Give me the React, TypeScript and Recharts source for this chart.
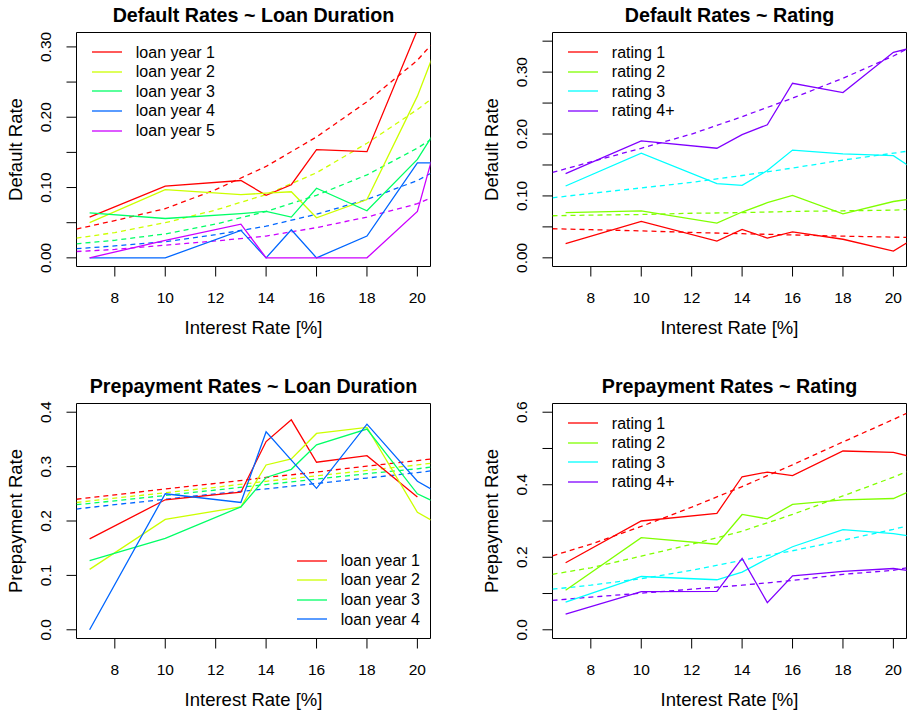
import React from "react";
import { LineChart, Line, XAxis, YAxis, ReferenceArea, Legend } from "recharts";

const FONT = "'Liberation Sans', Arial, Helvetica, sans-serif";

// interest-rate buckets (the last bucket lies past the plotted range and gets clipped)
const rates = [7, 10, 13, 14, 15, 16, 18, 20, 21];
// x positions where the fitted curves are sampled
const fitRates = [6.48, 8, 10, 12, 14, 16, 18, 20, 20.52];
const rateTicks = [8, 10, 12, 14, 16, 18, 20];

const loanYears = ["loan year 1", "loan year 2", "loan year 3", "loan year 4", "loan year 5"];
const ratings = ["rating 1", "rating 2", "rating 3", "rating 4+"];
const loanColors = ["#FF0000", "#CCFF00", "#00FF66", "#0066FF", "#CC00FF"];
const ratingColors = ["#FF0000", "#80FF00", "#00FFFF", "#8000FF"];

// default rate by loan year
const defaultByYear = [
  [0.058, 0.102, 0.11, 0.089, 0.104, 0.154, 0.151, 0.324],
  [0.05, 0.097, 0.09, 0.092, 0.094, 0.057, 0.083, 0.23, 0.323],
  [0.064, 0.056, 0.063, 0.066, 0.058, 0.099, 0.067, 0.14, 0.197],
  [0, 0, 0.039, 0, 0.04, 0, 0.031, 0.135, 0.135],
  [0, 0.025, 0.048, 0, 0, 0, 0, 0.066, 0.196],
];
const defaultByYearFit = [
  [0.041, 0.053, 0.07, 0.097, 0.13, 0.172, 0.222, 0.281, 0.302],
  [0.028, 0.036, 0.05, 0.068, 0.09, 0.121, 0.163, 0.211, 0.225],
  [0.02, 0.025, 0.034, 0.048, 0.066, 0.089, 0.118, 0.156, 0.168],
  [0.013, 0.017, 0.023, 0.033, 0.045, 0.062, 0.083, 0.11, 0.12],
  [0.009, 0.012, 0.018, 0.024, 0.031, 0.043, 0.058, 0.077, 0.085],
];

// default rate by rating
const defaultByRating = [
  [0.023, 0.059, 0.027, 0.046, 0.032, 0.042, 0.03, 0.011, 0.036],
  [0.073, 0.076, 0.056, 0.074, 0.089, 0.101, 0.071, 0.091, 0.097],
  [0.116, 0.169, 0.12, 0.117, 0.141, 0.174, 0.168, 0.165, 0.138],
  [0.136, 0.189, 0.177, 0.199, 0.215, 0.282, 0.267, 0.332, 0.342],
];
const defaultByRatingFit = [
  [0.047, 0.0455, 0.0435, 0.041, 0.039, 0.037, 0.035, 0.0335, 0.033],
  [0.068, 0.069, 0.07, 0.072, 0.073, 0.075, 0.076, 0.077, 0.078],
  [0.097, 0.104, 0.113, 0.122, 0.133, 0.145, 0.158, 0.169, 0.172],
  [0.138, 0.155, 0.177, 0.2, 0.228, 0.258, 0.29, 0.326, 0.337],
];

// prepayment rate by loan year
const prepayByYear = [
  [0.167, 0.239, 0.253, 0.346, 0.386, 0.308, 0.32, 0.244],
  [0.111, 0.203, 0.226, 0.303, 0.314, 0.361, 0.372, 0.216, 0.19],
  [0.127, 0.168, 0.226, 0.28, 0.295, 0.34, 0.369, 0.25, 0.228],
  [0.0, 0.25, 0.234, 0.364, 0.312, 0.26, 0.378, 0.273, 0.247],
];
const prepayByYearFit = [
  [0.24, 0.248, 0.259, 0.269, 0.28, 0.29, 0.301, 0.311, 0.314],
  [0.234, 0.242, 0.252, 0.262, 0.273, 0.283, 0.293, 0.303, 0.306],
  [0.23, 0.237, 0.247, 0.257, 0.267, 0.277, 0.287, 0.296, 0.299],
  [0.222, 0.23, 0.24, 0.25, 0.259, 0.269, 0.279, 0.289, 0.292],
];

// prepayment rate by rating
const prepayByRating = [
  [0.185, 0.3, 0.321, 0.422, 0.435, 0.425, 0.493, 0.489, 0.472],
  [0.109, 0.254, 0.236, 0.318, 0.306, 0.346, 0.358, 0.362, 0.393],
  [0.076, 0.147, 0.138, 0.159, 0.196, 0.229, 0.276, 0.265, 0.255],
  [0.043, 0.105, 0.106, 0.197, 0.075, 0.149, 0.161, 0.169, 0.159],
];
const prepayByRatingFit = [
  [0.204, 0.236, 0.285, 0.338, 0.395, 0.455, 0.518, 0.58, 0.597],
  [0.153, 0.171, 0.203, 0.236, 0.272, 0.318, 0.369, 0.421, 0.436],
  [0.112, 0.123, 0.141, 0.164, 0.192, 0.218, 0.247, 0.277, 0.286],
  [0.081, 0.09, 0.101, 0.112, 0.123, 0.136, 0.153, 0.164, 0.171],
];

const defaultTicksA = [0, 0.05, 0.1, 0.15, 0.2, 0.25, 0.3];
const defaultTicksB = [0, 0.05, 0.1, 0.15, 0.2, 0.25, 0.3, 0.35];
const defaultTickLabels = ["0.00", "", "0.10", "", "0.20", "", "0.30", ""];
const prepayTicksA = [0, 0.1, 0.2, 0.3, 0.4];
const prepayTickLabelsA = ["0.0", "0.1", "0.2", "0.3", "0.4"];
const prepayTicksB = [0, 0.1, 0.2, 0.3, 0.4, 0.5, 0.6];
const prepayTickLabelsB = ["0.0", "", "0.2", "", "0.4", "", "0.6"];

const toPoints = (xs: number[], ys: number[]) => ys.map((y, i) => ({ x: xs[i], y }));

const CELL_W = 454;
const CELL_H = 356;

type Box = { left: number; right: number; top: number; bottom: number };

type PanelProps = {
  x: number;
  y: number;
  title: string;
  yLabel: string;
  names: string[];
  colors: string[];
  values: number[][];
  fits: number[][];
  yDomain: [number, number];
  yTicks: number[];
  yTickLabels: string[];
  box: Box;
  legendDx: number;
  legendDy: number;
};

const LegendBox = ({ names, colors }: { names: string[]; colors: string[] }) => (
  <div style={{ fontFamily: FONT, fontSize: 16, color: "#000" }}>
    {names.map((n, i) => (
      <div key={n} style={{ display: "flex", alignItems: "center", height: 19.6, whiteSpace: "nowrap" }}>
        <svg width={30} height={4} style={{ marginRight: 14.3, overflow: "visible" }}>
          <line x1={0} x2={30} y1={2} y2={2} stroke={colors[i]} strokeWidth={1.3} />
        </svg>
        <span style={{ lineHeight: "19.6px" }}>{n}</span>
      </div>
    ))}
  </div>
);

const Panel = (p: PanelProps) => {
  const { box } = p;
  const xDomain: [number, number] = [6.48, 20.52];
  const midX = (box.left + box.right) / 2;
  const midY = (box.top + box.bottom) / 2;
  const yTickX = box.left - 30.5;

  return (
    <div style={{ position: "absolute", left: p.x, top: p.y, width: CELL_W, height: CELL_H }}>
      <LineChart
        width={CELL_W}
        height={CELL_H}
        margin={{ top: box.top, right: CELL_W - box.right, bottom: 0, left: 0 }}
      >
        <XAxis
          type="number"
          dataKey="x"
          domain={xDomain}
          allowDataOverflow
          ticks={rateTicks}
          interval={0}
          height={CELL_H - box.bottom}
          axisLine={false}
          tickSize={10}
          tickLine={{ stroke: "#000", strokeWidth: 1 }}
          tick={(t: any) => (
            <text
              x={t.x}
              y={box.bottom + 36}
              textAnchor="middle"
              fontFamily={FONT}
              fontSize={15.5}
              fill="#000"
            >
              {t.payload.value}
            </text>
          )}
        />
        <YAxis
          type="number"
          dataKey="y"
          domain={p.yDomain}
          allowDataOverflow
          ticks={p.yTicks}
          interval={0}
          width={box.left}
          axisLine={false}
          tickSize={10}
          tickLine={{ stroke: "#000", strokeWidth: 1 }}
          tick={(t: any) => (
            <text
              x={yTickX}
              y={t.y}
              dy="0.35em"
              transform={`rotate(-90 ${yTickX} ${t.y})`}
              textAnchor="middle"
              fontFamily={FONT}
              fontSize={15.5}
              fill="#000"
            >
              {p.yTickLabels[t.index] ?? ""}
            </text>
          )}
        />
        <ReferenceArea
          x1={xDomain[0]}
          x2={xDomain[1]}
          y1={p.yDomain[0]}
          y2={p.yDomain[1]}
          ifOverflow="visible"
          fill="none"
          stroke="#000"
          strokeWidth={1}
        />
        {p.fits.map((f, i) => (
          <Line
            key={`fit-${i}`}
            data={toPoints(fitRates, f)}
            dataKey="y"
            type="linear"
            stroke={p.colors[i]}
            strokeWidth={1.3}
            strokeDasharray="5 4"
            dot={false}
            legendType="none"
            isAnimationActive={false}
          />
        ))}
        {p.values.map((v, i) => (
          <Line
            key={`obs-${i}`}
            name={p.names[i]}
            data={toPoints(rates, v)}
            dataKey="y"
            type="linear"
            stroke={p.colors[i]}
            strokeWidth={1.3}
            dot={false}
            isAnimationActive={false}
          />
        ))}
        <Legend
          layout="vertical"
          align="center"
          verticalAlign="middle"
          wrapperStyle={{ left: box.left + p.legendDx, top: box.top + p.legendDy, width: "auto" }}
          content={() => <LegendBox names={p.names} colors={p.colors} />}
        />
      </LineChart>
      <svg
        width={CELL_W}
        height={CELL_H}
        style={{ position: "absolute", left: 0, top: 0, pointerEvents: "none" }}
      >
        <text
          x={midX}
          y={box.top - 10.3}
          textAnchor="middle"
          fontFamily={FONT}
          fontWeight="bold"
          fontSize={19.7}
          fill="#000"
        >
          {p.title}
        </text>
        <text
          x={midX}
          y={box.bottom + 67}
          textAnchor="middle"
          fontFamily={FONT}
          fontSize={18.5}
          fill="#000"
        >
          Interest Rate [%]
        </text>
        <text
          x={box.left - 54.5}
          y={midY}
          transform={`rotate(-90 ${box.left - 54.5} ${midY})`}
          textAnchor="middle"
          fontFamily={FONT}
          fontSize={18.5}
          fill="#000"
        >
          {p.yLabel}
        </text>
      </svg>
    </div>
  );
};

const topLeftBox: Box = { left: 76.5, right: 430.5, top: 32.5, bottom: 266.5 };
const topRightBox: Box = { left: 98.5, right: 452.5, top: 32.5, bottom: 266.5 };
const bottomLeftBox: Box = { left: 76.5, right: 430.5, top: 47.5, bottom: 282.5 };
const bottomRightBox: Box = { left: 98.5, right: 452.5, top: 47.5, bottom: 282.5 };

export default function App() {
  return (
    <div
      style={{
        position: "absolute",
        left: 0,
        top: 0,
        width: 908,
        height: 712,
        background: "#fff",
        overflow: "hidden",
      }}
    >
      <Panel
        x={0}
        y={0}
        title="Default Rates ~ Loan Duration"
        yLabel="Default Rate"
        names={loanYears}
        colors={loanColors}
        values={defaultByYear}
        fits={defaultByYearFit}
        yDomain={[-0.0123, 0.3205]}
        yTicks={defaultTicksA}
        yTickLabels={defaultTickLabels}
        box={topLeftBox}
        legendDx={15}
        legendDy={10}
      />
      <Panel
        x={454}
        y={0}
        title="Default Rates ~ Rating"
        yLabel="Default Rate"
        names={ratings}
        colors={ratingColors}
        values={defaultByRating}
        fits={defaultByRatingFit}
        yDomain={[-0.014, 0.364]}
        yTicks={defaultTicksB}
        yTickLabels={defaultTickLabels}
        box={topRightBox}
        legendDx={15}
        legendDy={10}
      />
      <Panel
        x={0}
        y={356}
        title="Prepayment Rates ~ Loan Duration"
        yLabel="Prepayment Rate"
        names={loanYears.slice(0, 4)}
        colors={loanColors.slice(0, 4)}
        values={prepayByYear}
        fits={prepayByYearFit}
        yDomain={[-0.016, 0.416]}
        yTicks={prepayTicksA}
        yTickLabels={prepayTickLabelsA}
        box={bottomLeftBox}
        legendDx={220}
        legendDy={147.4}
      />
      <Panel
        x={454}
        y={356}
        title="Prepayment Rates ~ Rating"
        yLabel="Prepayment Rate"
        names={ratings}
        colors={ratingColors}
        values={prepayByRating}
        fits={prepayByRatingFit}
        yDomain={[-0.024, 0.624]}
        yTicks={prepayTicksB}
        yTickLabels={prepayTickLabelsB}
        box={bottomRightBox}
        legendDx={15}
        legendDy={10}
      />
    </div>
  );
}
